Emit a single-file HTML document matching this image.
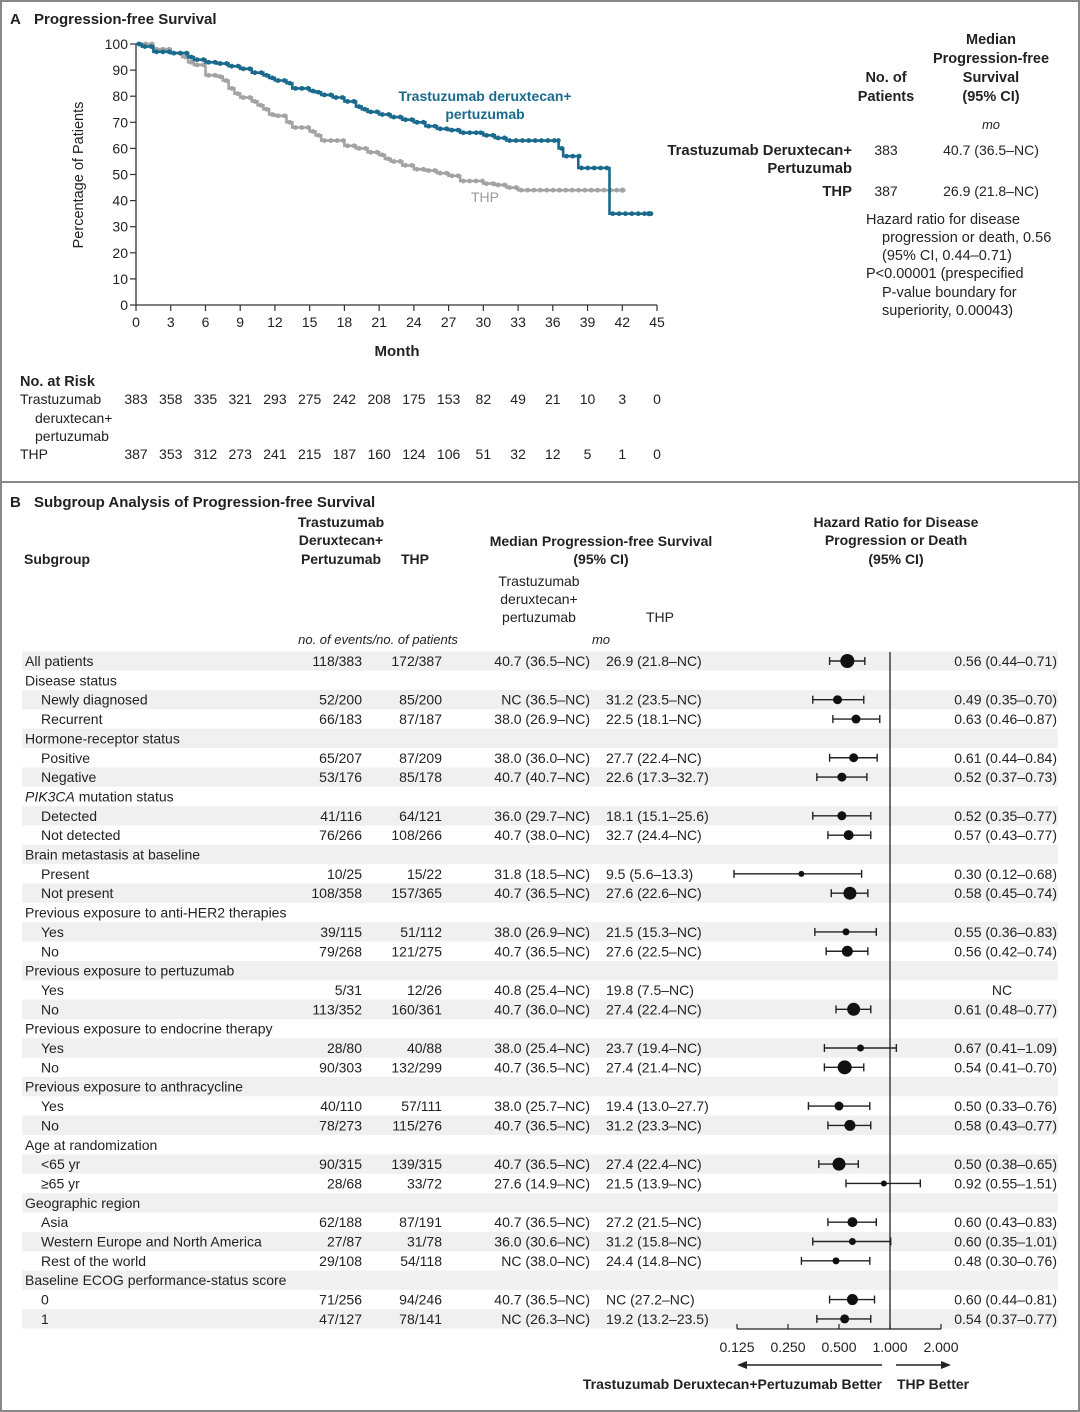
<!DOCTYPE html>
<html><head><meta charset="utf-8">
<style>
html,body{margin:0;padding:0;background:#fff;}
svg{display:block;font-family:"Liberation Sans",sans-serif;}
text{fill:#222;font-size:14px;}
.b{font-weight:bold;}
</style></head>
<body>
<svg id="s" width="1080" height="1412" viewBox="0 0 1080 1412" xmlns="http://www.w3.org/2000/svg">
<rect x="1" y="1" width="1078" height="1410" fill="#fff" stroke="#888" stroke-width="2"/>
<line x1="0" y1="482" x2="1080" y2="482" stroke="#888" stroke-width="2"/>
<text x="10" y="24" class="b" style="font-size:15px">A</text>
<text x="34" y="24" class="b" style="font-size:15px">Progression-free Survival</text>
<text x="0" y="0" transform="translate(83,175) rotate(-90)" text-anchor="middle" style="font-size:14.5px">Percentage of Patients</text>
<text x="397" y="356" text-anchor="middle" class="b" style="font-size:15px">Month</text>
<g id="km"></g>
<text x="485" y="101" text-anchor="middle" class="b" style="fill:#1a6a8e;font-size:14px">Trastuzumab deruxtecan+</text>
<text x="485" y="119" text-anchor="middle" class="b" style="fill:#1a6a8e;font-size:14px">pertuzumab</text>
<text x="485" y="202" text-anchor="middle" style="fill:#9a9a9a;font-size:14px">THP</text>
<g text-anchor="middle" style="font-size:14.5px">
<text x="886" y="82" class="b" style="font-size:14.5px">No. of</text><text x="886" y="101" class="b" style="font-size:14.5px">Patients</text>
<text x="991" y="44" class="b" style="font-size:14.5px">Median</text><text x="991" y="63" class="b" style="font-size:14.5px">Progression-free</text>
<text x="991" y="82" class="b" style="font-size:14.5px">Survival</text><text x="991" y="101" class="b" style="font-size:14.5px">(95% CI)</text>
</g>
<text x="991" y="129" text-anchor="middle" style="font-style:italic;font-size:13px">mo</text>
<text x="852" y="155" text-anchor="end" class="b" style="font-size:14.8px">Trastuzumab Deruxtecan+</text>
<text x="852" y="173" text-anchor="end" class="b" style="font-size:14.8px">Pertuzumab</text>
<text x="852" y="196" text-anchor="end" class="b" style="font-size:14.8px">THP</text>
<text x="886" y="155" text-anchor="middle">383</text><text x="886" y="196" text-anchor="middle">387</text>
<text x="991" y="155" text-anchor="middle">40.7 (36.5–NC)</text><text x="991" y="196" text-anchor="middle">26.9 (21.8–NC)</text>
<g>
<text x="866" y="224" style="font-size:14.5px">Hazard ratio for disease</text>
<text x="882" y="242" style="font-size:14.5px">progression or death, 0.56</text>
<text x="882" y="260" style="font-size:14.5px">(95% CI, 0.44–0.71)</text>
<text x="866" y="278" style="font-size:14.5px">P&lt;0.00001 (prespecified</text>
<text x="882" y="297" style="font-size:14.5px">P-value boundary for</text>
<text x="882" y="315" style="font-size:14.5px">superiority, 0.00043)</text>
</g>
<text x="20" y="386" class="b" style="font-size:14.5px">No. at Risk</text>
<text x="20" y="404">Trastuzumab</text>
<text x="35" y="423">deruxtecan+</text>
<text x="35" y="441">pertuzumab</text>
<text x="20" y="459">THP</text>
<g id="risk" text-anchor="middle"></g>

<text x="10" y="507" class="b" style="font-size:15px">B</text>
<text x="34" y="507" class="b" style="font-size:15px">Subgroup Analysis of Progression-free Survival</text>
<g text-anchor="middle">
<text x="341" y="527" class="b">Trastuzumab</text><text x="341" y="545" class="b">Deruxtecan+</text><text x="341" y="564" class="b">Pertuzumab</text>
<text x="415" y="564" class="b">THP</text>
<text x="601" y="546" class="b">Median Progression-free Survival</text><text x="601" y="564" class="b">(95% CI)</text>
<text x="896" y="527" class="b">Hazard Ratio for Disease</text><text x="896" y="545" class="b">Progression or Death</text><text x="896" y="564" class="b">(95% CI)</text>
</g>
<text x="24" y="564" class="b">Subgroup</text>
<g text-anchor="middle">
<text x="539" y="586">Trastuzumab</text><text x="539" y="604">deruxtecan+</text><text x="539" y="622">pertuzumab</text>
<text x="660" y="622">THP</text>
<text x="378" y="644" style="font-style:italic;font-size:13px">no. of events/no. of patients</text>
<text x="601" y="644" style="font-style:italic;font-size:13px">mo</text>
</g>
<g id="fp"></g>
</svg>
<script>
var NS="http://www.w3.org/2000/svg";
function el(p,t,a,txt){var e=document.createElementNS(NS,t);for(var k in a)e.setAttribute(k,a[k]);if(txt!==undefined)e.textContent=txt;p.appendChild(e);return e;}
var km=document.getElementById('km');
function X(m){return 136+m*11.578;} function Y(p){return 305-p*2.61;}
el(km,'line',{x1:136,y1:44,x2:136,y2:305,stroke:'#333','stroke-width':1.3});
el(km,'line',{x1:136,y1:305,x2:657,y2:305,stroke:'#333','stroke-width':1.3});
for(var i=0;i<=10;i++){var y=Y(i*10);el(km,'line',{x1:130,y1:y,x2:136,y2:y,stroke:'#333','stroke-width':1.2});
 el(km,'text',{x:128,y:y+5,'text-anchor':'end'},String(i*10));}
for(var i=0;i<=15;i++){var x=X(i*3);el(km,'line',{x1:x,y1:305,x2:x,y2:311,stroke:'#333','stroke-width':1.2});
 el(km,'text',{x:x,y:327,'text-anchor':'middle'},String(i*3));}
function step(pts,col,dots){var d='M'+X(pts[0][0])+','+Y(pts[0][1]);
 for(var i=1;i<pts.length;i++){d+=' H'+X(pts[i][0]).toFixed(1)+' V'+Y(pts[i][1]).toFixed(1);}
 el(km,'path',{d:d,fill:'none',stroke:col,'stroke-width':2.6});
 for(var i=0;i<pts.length-1;i++){var a=pts[i],b=pts[i+1];
  for(var m=a[0];m<b[0];m+=dots){el(km,'circle',{cx:X(m+dots*0.5),cy:Y(a[1]),r:2.4,fill:col});}}
 var l=pts[pts.length-1];el(km,'circle',{cx:X(l[0]),cy:Y(l[1]),r:2.6,fill:col});}
var gray=[[0,100],[1.5,98],[3,96.5],[4,95],[4.5,93],[5,92],[6,88],[7,87.5],[7.5,86],[8,83],[8.5,81],[9,79.5],[10,78],[10.5,76.5],[11,75],[11.5,73],[12,72.5],[13,70],[13.5,68],[15,66.5],[15.5,65],[16,63],[18,61],[19,60],[20,58.5],[21,57.5],[21.5,56],[22,55],[23,53.5],[24,52],[25,51.5],[26,50.5],[27,49.5],[28,47.5],[30,46.5],[31,46],[32,45],[33,44],[42,44]];
var blue=[[0,100],[0.5,99],[1.5,97],[3,96.5],[4.5,95],[5,94],[6,93],[7,92.5],[8,91.5],[9,90.5],[10,89],[11,88],[11.5,87],[12,86],[13,85],[13.5,83],[15,82],[15.5,81.5],[16,80.5],[17,79.5],[18,78],[19,76],[19.5,75],[20,74],[21,73],[22,72],[23,71],[24,70],[25,68.5],[26,67.5],[27,67],[28,66],[29.5,66],[30,65],[31,64],[32,63],[36.2,63],[36.5,60],[36.9,57],[38,57],[38.2,52.5],[40.9,52.5],[40.9,35],[44.3,35]];
step(gray,'#a3a3a3',0.55);
step(blue,'#1a6a8e',0.55);
var rk=document.getElementById('risk');
var r1=[383,358,335,321,293,275,242,208,175,153,82,49,21,10,3,0],r2=[387,353,312,273,241,215,187,160,124,106,51,32,12,5,1,0];
for(var i=0;i<16;i++){el(rk,'text',{x:X(i*3),y:404},String(r1[i]));el(rk,'text',{x:X(i*3),y:459},String(r2[i]));}
var fp=document.getElementById('fp');
var rows=[
["All patients",0,"118/383","172/387","40.7 (36.5–NC)","26.9 (21.8–NC)",0.56,0.44,0.71,7,"0.56 (0.44–0.71)"],
["Disease status",0],
["Newly diagnosed",1,"52/200","85/200","NC (36.5–NC)","31.2 (23.5–NC)",0.49,0.35,0.70,4.5,"0.49 (0.35–0.70)"],
["Recurrent",1,"66/183","87/187","38.0 (26.9–NC)","22.5 (18.1–NC)",0.63,0.46,0.87,4.5,"0.63 (0.46–0.87)"],
["Hormone-receptor status",0],
["Positive",1,"65/207","87/209","38.0 (36.0–NC)","27.7 (22.4–NC)",0.61,0.44,0.84,4.5,"0.61 (0.44–0.84)"],
["Negative",1,"53/176","85/178","40.7 (40.7–NC)","22.6 (17.3–32.7)",0.52,0.37,0.73,4.5,"0.52 (0.37–0.73)"],
["PIK3CA mutation status",0],
["Detected",1,"41/116","64/121","36.0 (29.7–NC)","18.1 (15.1–25.6)",0.52,0.35,0.77,4.5,"0.52 (0.35–0.77)"],
["Not detected",1,"76/266","108/266","40.7 (38.0–NC)","32.7 (24.4–NC)",0.57,0.43,0.77,5,"0.57 (0.43–0.77)"],
["Brain metastasis at baseline",0],
["Present",1,"10/25","15/22","31.8 (18.5–NC)","9.5 (5.6–13.3)",0.30,0.12,0.68,3,"0.30 (0.12–0.68)"],
["Not present",1,"108/358","157/365","40.7 (36.5–NC)","27.6 (22.6–NC)",0.58,0.45,0.74,6.5,"0.58 (0.45–0.74)"],
["Previous exposure to anti-HER2 therapies",0],
["Yes",1,"39/115","51/112","38.0 (26.9–NC)","21.5 (15.3–NC)",0.55,0.36,0.83,3.5,"0.55 (0.36–0.83)"],
["No",1,"79/268","121/275","40.7 (36.5–NC)","27.6 (22.5–NC)",0.56,0.42,0.74,5.5,"0.56 (0.42–0.74)"],
["Previous exposure to pertuzumab",0],
["Yes",1,"5/31","12/26","40.8 (25.4–NC)","19.8 (7.5–NC)",0,0,0,0,"NC"],
["No",1,"113/352","160/361","40.7 (36.0–NC)","27.4 (22.4–NC)",0.61,0.48,0.77,6.5,"0.61 (0.48–0.77)"],
["Previous exposure to endocrine therapy",0],
["Yes",1,"28/80","40/88","38.0 (25.4–NC)","23.7 (19.4–NC)",0.67,0.41,1.09,3.5,"0.67 (0.41–1.09)"],
["No",1,"90/303","132/299","40.7 (36.5–NC)","27.4 (21.4–NC)",0.54,0.41,0.70,7,"0.54 (0.41–0.70)"],
["Previous exposure to anthracycline",0],
["Yes",1,"40/110","57/111","38.0 (25.7–NC)","19.4 (13.0–27.7)",0.50,0.33,0.76,4.5,"0.50 (0.33–0.76)"],
["No",1,"78/273","115/276","40.7 (36.5–NC)","31.2 (23.3–NC)",0.58,0.43,0.77,5.5,"0.58 (0.43–0.77)"],
["Age at randomization",0],
["<65 yr",1,"90/315","139/315","40.7 (36.5–NC)","27.4 (22.4–NC)",0.50,0.38,0.65,6.5,"0.50 (0.38–0.65)"],
["≥65 yr",1,"28/68","33/72","27.6 (14.9–NC)","21.5 (13.9–NC)",0.92,0.55,1.51,3,"0.92 (0.55–1.51)"],
["Geographic region",0],
["Asia",1,"62/188","87/191","40.7 (36.5–NC)","27.2 (21.5–NC)",0.60,0.43,0.83,5,"0.60 (0.43–0.83)"],
["Western Europe and North America",1,"27/87","31/78","36.0 (30.6–NC)","31.2 (15.8–NC)",0.60,0.35,1.01,3.5,"0.60 (0.35–1.01)"],
["Rest of the world",1,"29/108","54/118","NC (38.0–NC)","24.4 (14.8–NC)",0.48,0.30,0.76,3.5,"0.48 (0.30–0.76)"],
["Baseline ECOG performance-status score",0],
["0",1,"71/256","94/246","40.7 (36.5–NC)","NC (27.2–NC)",0.60,0.44,0.81,5.5,"0.60 (0.44–0.81)"],
["1",1,"47/127","78/141","NC (26.3–NC)","19.2 (13.2–23.5)",0.54,0.37,0.77,4.5,"0.54 (0.37–0.77)"]];
function H(v){return 890+51*Math.log2(v);}
var y0=661,st=19.35;
rows.forEach(function(r,i){var y=y0+i*st;
 if(i%2==0) el(fp,'rect',{x:22,y:y-9.7,width:1036,height:st,fill:'#f0f0f0'});});
el(fp,'line',{x1:890,y1:652,x2:890,y2:1329,stroke:'#222','stroke-width':1.3});
rows.forEach(function(r,i){var y=y0+i*st+5;
 var t=el(fp,'text',{x:r[1]?41:25,y:y});
 if(r[0].indexOf('PIK3CA')==0){el(t,'tspan',{'font-style':'italic'},'PIK3CA');el(t,'tspan',{},' mutation status');}
 else t.textContent=r[0];
 if(r.length<3)return;
 el(fp,'text',{x:362,y:y,'text-anchor':'end'},r[2]);
 el(fp,'text',{x:442,y:y,'text-anchor':'end'},r[3]);
 el(fp,'text',{x:590,y:y,'text-anchor':'end'},r[4]);
 el(fp,'text',{x:606,y:y},r[5]);
 if(r[10]=='NC') el(fp,'text',{x:1002,y:y,'text-anchor':'middle'},'NC');
 else el(fp,'text',{x:1057,y:y,'text-anchor':'end'},r[10]);
 if(r[6]){var cy=y-5;var a=H(r[7]),b=H(r[8]);
  el(fp,'line',{x1:a,y1:cy,x2:b,y2:cy,stroke:'#222','stroke-width':1.4});
  el(fp,'line',{x1:a,y1:cy-4,x2:a,y2:cy+4,stroke:'#222','stroke-width':1.4});
  el(fp,'line',{x1:b,y1:cy-4,x2:b,y2:cy+4,stroke:'#222','stroke-width':1.4});
  el(fp,'circle',{cx:H(r[6]),cy:cy,r:r[9],fill:'#111'});}
});
el(fp,'line',{x1:737,y1:1329,x2:941,y2:1329,stroke:'#222','stroke-width':1.3});
[0.125,0.25,0.5,1,2].forEach(function(v,i){var x=H(v);
 el(fp,'line',{x1:x,y1:1324,x2:x,y2:1329,stroke:'#222','stroke-width':1.2});
 el(fp,'text',{x:x,y:1352,'text-anchor':'middle'},["0.125","0.250","0.500","1.000","2.000"][i]);});
el(fp,'line',{x1:745,y1:1365,x2:882,y2:1365,stroke:'#222','stroke-width':1.4});
el(fp,'path',{d:'M737,1365 L747,1361 L747,1369 Z',fill:'#222'});
el(fp,'line',{x1:896,y1:1365,x2:943,y2:1365,stroke:'#222','stroke-width':1.4});
el(fp,'path',{d:'M951,1365 L941,1361 L941,1369 Z',fill:'#222'});
el(fp,'text',{x:882,y:1389,'text-anchor':'end','font-weight':'bold'},'Trastuzumab Deruxtecan+Pertuzumab Better');
el(fp,'text',{x:897,y:1389,'font-weight':'bold'},'THP Better');
</script>
</body></html>
